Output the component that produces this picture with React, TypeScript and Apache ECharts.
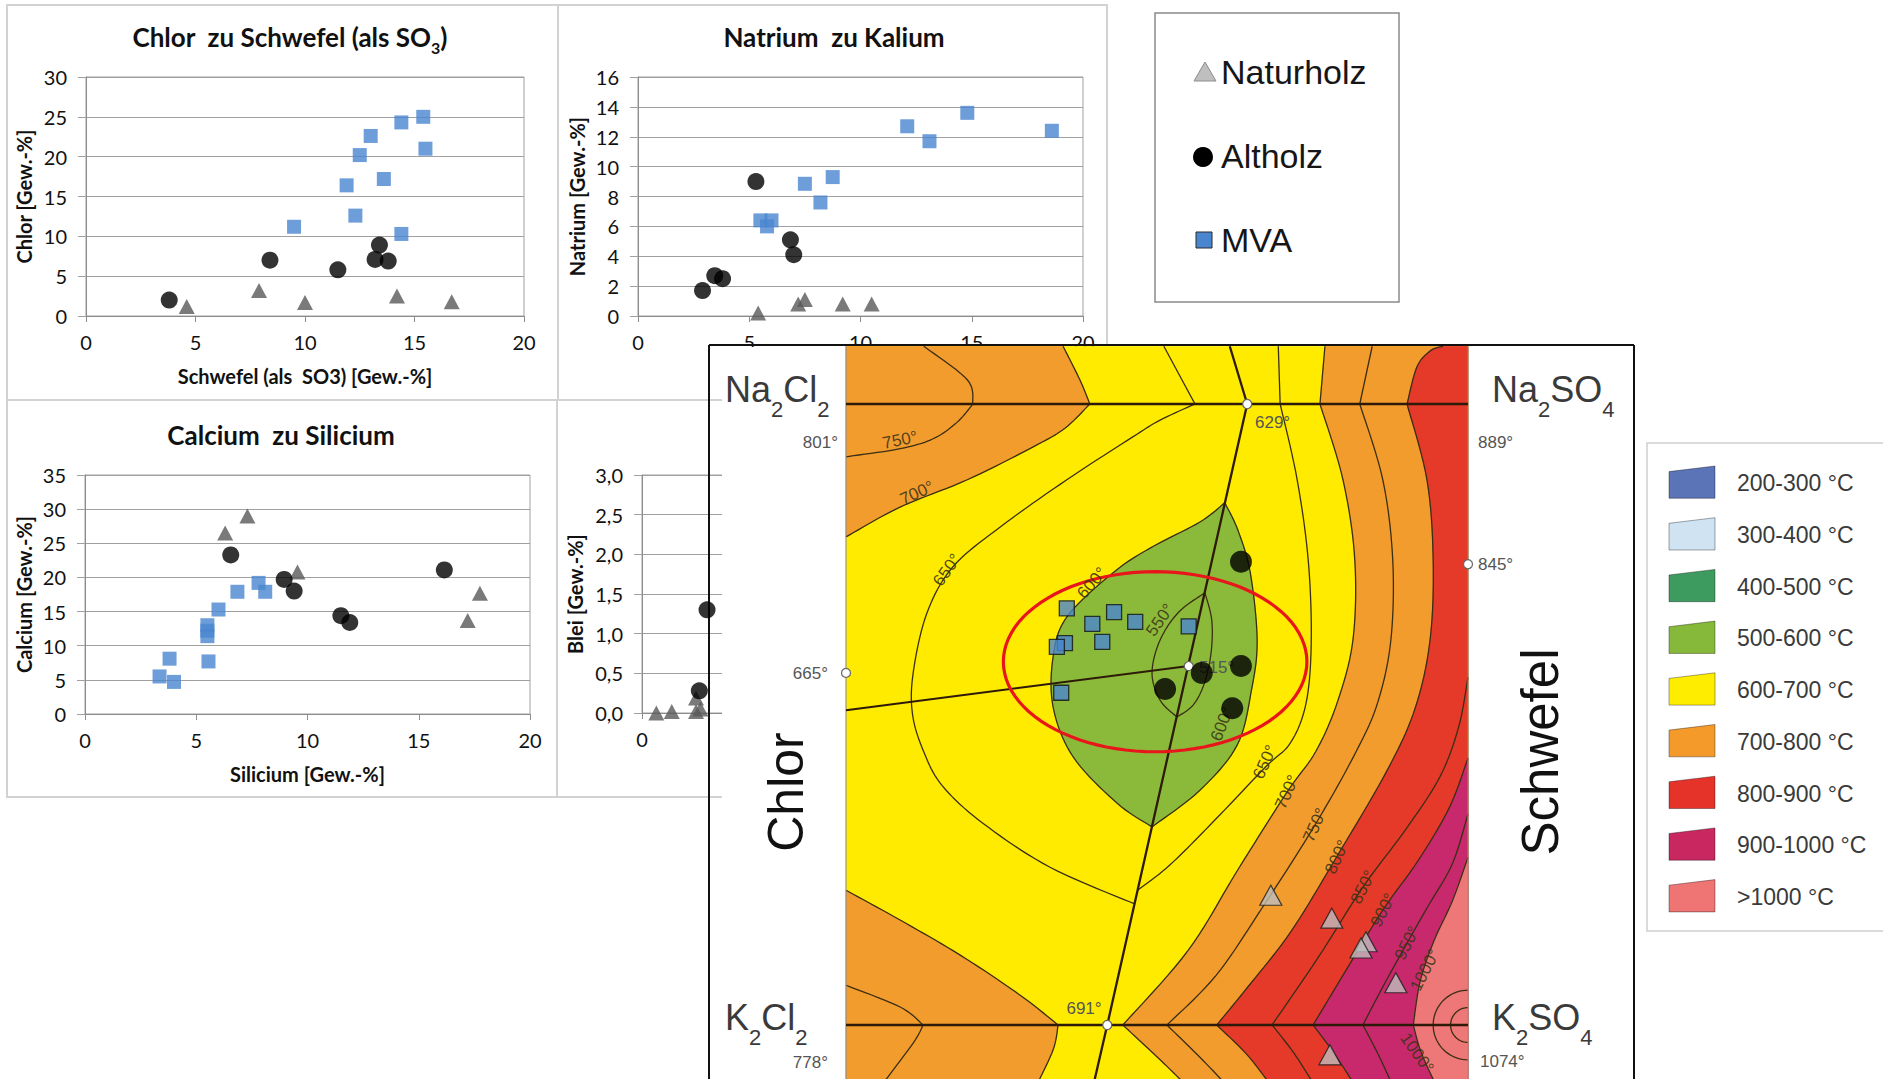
import React, { useEffect, useRef } from "react";
import * as echarts from "echarts";

type Pt = [number, number];

const XL_FONT = "Lato";
const AR_FONT = "Liberation Sans";
const GRID_COLOR = "#A0A0A0";
const AXIS_COLOR = "#8C8C8C";
const PANEL_COLOR = "#D2D2D2";

// ---------- Excel scatter plots, all values in Gew.-% ----------
const clsNaturholz: Pt[] = [[4.6, 1.2], [7.9, 3.2], [10.0, 1.7], [14.2, 2.5], [16.7, 1.8]];
const clsAltholz: Pt[] = [[3.8, 2.0], [8.4, 7.0], [11.5, 5.8], [13.4, 8.9], [13.2, 7.1], [13.8, 6.9]];
const clsMva: Pt[] = [[9.5, 11.2], [11.9, 16.4], [12.3, 12.6], [12.5, 20.2], [13.0, 22.6], [13.6, 17.2], [14.4, 24.3], [14.4, 10.3], [15.4, 25.0], [15.5, 21.0]];

const nakNaturholz: Pt[] = [[5.4, 0.2], [7.2, 0.8], [7.5, 1.1], [9.2, 0.8], [10.5, 0.8]];
const nakAltholz: Pt[] = [[2.9, 1.7], [3.45, 2.7], [3.8, 2.5], [5.3, 9.0], [6.85, 5.1], [7.0, 4.1]];
const nakMva: Pt[] = [[5.5, 6.4], [6.0, 6.4], [5.8, 6.0], [7.5, 8.85], [8.2, 7.6], [8.75, 9.3], [12.1, 12.7], [13.1, 11.7], [14.8, 13.6], [18.6, 12.4]];

const casiNaturholz: Pt[] = [[6.3, 26.5], [7.3, 29.0], [9.55, 20.8], [17.2, 13.7], [17.75, 17.7]];
const casiAltholz: Pt[] = [[6.55, 23.3], [8.95, 19.7], [9.4, 18.0], [11.5, 14.4], [11.9, 13.4], [16.15, 21.1]];
const casiMva: Pt[] = [[3.35, 5.5], [3.8, 8.1], [4.0, 4.7], [5.5, 13.0], [5.5, 12.2], [5.5, 11.4], [5.55, 7.7], [6.0, 15.3], [6.85, 17.9], [7.8, 19.2], [8.1, 17.9]];

const pbNaturholz: Pt[] = [[0.65, 0.0], [1.35, 0.02], [2.45, 0.19], [2.45, 0.02], [2.65, 0.05]];
const pbAltholz: Pt[] = [[2.6, 0.28], [2.95, 1.3]];

// ---------- Reciprocal salt system Na2Cl2 / Na2SO4 / K2Cl2 / K2SO4 ----------
// x: 0 = chloride side, 100 = sulfate side; y: 0 = sodium line, 100 = potassium line
const phaseMva: Pt[] = [[35.5, 32.9], [39.6, 35.4], [43.1, 33.5], [46.5, 35.1], [41.2, 38.3], [35.2, 38.5], [33.9, 39.1], [34.6, 46.5], [55.1, 35.8]];
const phaseAltholz: Pt[] = [[63.5, 25.4], [63.5, 42.2], [57.2, 43.3], [51.3, 45.9], [62.1, 49.0]];
const phaseNaturholz: Pt[] = [[68.3, 79.1], [78.1, 82.8], [83.6, 86.6], [82.8, 87.6], [88.4, 93.2], [77.8, 104.8]];

const FIELD_TOP = -9.3;
const FIELD_BOTTOM = 110;

const iso700NaCl: Pt[][] = [
  [[0, 21.4], [8.7, 16.6], [19.5, 12.2], [30.1, 6.9], [35.2, 3.9], [39.2, 0]],
  [[39.2, 0], [37.6, -3.9], [34.9, FIELD_TOP]],
];
const iso750NaCl: Pt[][] = [
  [[0, 8.5], [8.7, 7.2], [14.0, 5.6], [17.8, 3.0], [20.4, 0]],
  [[20.4, 0], [19.5, -3.9], [12.5, FIELD_TOP]],
];
const iso650Cl: Pt[][] = [
  [[51.1, FIELD_TOP], [56.1, 0]],
  [[56.1, 0], [50.5, 2.6], [46.1, 5.3], [35.5, 12.2], [24.8, 19.8], [17.2, 26.2], [13.0, 33.7], [10.8, 43.3], [10.7, 50], [12.5, 56], [15.5, 61.5], [22.0, 67.5], [32.8, 74.6], [46.4, 80.5]],
];
const iso600Leaf: Pt[][] = [
  [[60.9, 15.9], [56.9, 19.0], [48.9, 23.2], [42.9, 27.2], [35.5, 34.3], [33.3, 40.7], [33.3, 48.8], [36.5, 56.8], [43.6, 64.3], [49.2, 68.1]],
  [[49.2, 68.1], [56.9, 62.2], [62.9, 54.9], [65.2, 46], [66.1, 38.0], [65.0, 27.2], [63.0, 20.3], [60.9, 15.9]],
];
const iso550: Pt[][] = [
  [[57.7, 30.4], [53.5, 33.5], [50.5, 38.0], [49.2, 43.3], [50.5, 47.7], [53.2, 50.4]],
  [[53.2, 50.4], [55.8, 48.5], [57.6, 45.0], [58.7, 40.0], [58.8, 34.8], [57.7, 30.4]],
];
const iso650S: Pt[][] = [
  [[69.5, FIELD_TOP], [69.8, 0]],
  [[69.8, 0], [72.5, 12], [74.3, 25], [74.8, 38], [74.0, 48], [71.5, 54.5], [67.4, 58.5], [59.3, 67], [52.1, 74.2], [46.9, 78.3]],
];
const iso700S: Pt[][] = [
  [[77.0, FIELD_TOP], [76.2, 0]],
  [[76.2, 0], [79.9, 12.2], [81.8, 25.1], [81.5, 38], [79, 48], [75.5, 56], [70.9, 62.5], [63, 75], [55, 88], [44.5, 100]],
  [[44.5, 100], [50.5, 105.6], [55, FIELD_BOTTOM]],
];
const iso750S: Pt[][] = [
  [[84.6, FIELD_TOP], [82.6, 0]],
  [[82.6, 0], [86.3, 12.2], [87.9, 25.1], [87.6, 38], [85.5, 48], [82, 56], [75.4, 67.8], [67, 81], [59.5, 92], [51.6, 100]],
  [[51.6, 100], [56.9, 105.2], [61.5, FIELD_BOTTOM]],
];
const iso800S: Pt[][] = [
  [[96, FIELD_TOP], [94, -8.6], [91.8, -6], [90.2, 0]],
  [[90.2, 0], [93.4, 12.2], [94.4, 25.1], [93.9, 38], [91.5, 49], [87, 59], [78.9, 72.9], [71.5, 85], [64.5, 94], [59.6, 100]],
  [[59.6, 100], [64.5, 104.8], [68.5, FIELD_BOTTOM]],
];
const iso850S: Pt[][] = [
  [[100, 44], [98.5, 52], [95.5, 60], [90, 68.5], [83.1, 77.8], [76, 89], [68.5, 100]],
  [[68.5, 100], [72, 104.5], [75.5, FIELD_BOTTOM]],
];
const iso900S: Pt[][] = [
  [[100, 57], [97, 65], [92, 73.5], [86.3, 81.5], [80.5, 91], [75.1, 100]],
  [[75.1, 100], [78.5, 104.6], [82, FIELD_BOTTOM]],
];
const iso950S: Pt[][] = [
  [[100, 66], [97.5, 74], [93.5, 81], [90.2, 86.8], [86.5, 93.5], [83.1, 100]],
  [[83.1, 100], [85.5, 104.6], [88, FIELD_BOTTOM]],
];
const iso1000S: Pt[][] = [
  [[100, 73], [97.5, 80], [94.5, 86.5], [92.3, 93], [91.2, 100]],
  [[91.2, 100], [92.5, 104.5], [95, FIELD_BOTTOM]],
];
const iso700KCl: Pt[][] = [
  [[0, 78.3], [8.7, 83.1], [18.3, 88.7], [28, 95.2], [34.1, 100]],
  [[34.1, 100], [33.3, 104], [30.5, FIELD_BOTTOM]],
];
const iso750KCl: Pt[][] = [
  [[0, 93.6], [8.7, 97.1], [12.4, 100]],
  [[12.4, 100], [10.8, 102.9], [5.5, FIELD_BOTTOM]],
];
const ringRadiiK2SO4 = [2.8, 5.6];
const valleyNaS: Pt[] = [[61.7, FIELD_TOP], [64.5, 0], [42.0, 100], [39.7, FIELD_BOTTOM]];
const valleyCl: Pt[] = [[0, 49.3], [55.1, 42.2]];
const invariantPoints: Pt[] = [[64.5, 0], [55.1, 42.2], [42.0, 100], [0, 43.3], [100, 25.8]];
const markedRegion = { cx: 49.7, cy: 41.5, rx: 24.4, ry: 14.5 };

const BAND_YELLOW = "#FFEB00";
const BAND_ORANGE = "#F39C2E";
const BAND_RED = "#E5392A";
const BAND_MAGENTA = "#C8286C";
const BAND_PINK = "#EE7878";
const BAND_GREEN = "#8BBA3A";
const CONTOUR = "#3a2e14";
const VALLEY = "#2e1a08";

const tempBandLabels = ["200-300 °C", "300-400 °C", "400-500 °C", "500-600 °C", "600-700 °C", "700-800 °C", "800-900 °C", "900-1000 °C", ">1000 °C"];
const tempBandColors = ["#5B74B8", "#CFE3F3", "#3D9B5F", "#86B93A", "#FFED00", "#F39A2B", "#E5332A", "#C9275F", "#EF7474"];

const sampleNames = ["Naturholz", "Altholz", "MVA"];

// Catmull-Rom through one smooth piece of an isotherm
function smoothPiece(pts: Pt[], steps = 10): Pt[] {
  if (pts.length < 3) return pts.slice();
  const out: Pt[] = [];
  for (let i = 0; i < pts.length - 1; i++) {
    const p0 = pts[Math.max(i - 1, 0)], p1 = pts[i], p2 = pts[i + 1], p3 = pts[Math.min(i + 2, pts.length - 1)];
    for (let s = 0; s < steps; s++) {
      const t = s / steps, t2 = t * t, t3 = t2 * t;
      const f = (k: number) =>
        0.5 * (2 * p1[k] + (-p0[k] + p2[k]) * t + (2 * p0[k] - 5 * p1[k] + 4 * p2[k] - p3[k]) * t2 + (-p0[k] + 3 * p1[k] - 3 * p2[k] + p3[k]) * t3);
      out.push([f(0), f(1)]);
    }
  }
  out.push(pts[pts.length - 1]);
  return out;
}
function trace(pieces: Pt[][]): Pt[] {
  const out: Pt[] = [];
  pieces.forEach((pc, i) => {
    const d = smoothPiece(pc);
    out.push(...(i === 0 ? d : d.slice(1)));
  });
  return out;
}

function renderPhaseDiagram(_params: any, api: any) {
  const c = (p: Pt) => api.coord(p) as number[];
  const run = (pieces: Pt[][]) => trace(pieces).map(c);
  const poly = (points: number[][], color: string) => ({ type: "polygon", shape: { points }, style: { fill: color, stroke: color, lineWidth: 0.6 } });
  const curve = (points: number[][], w = 1.3, color = CONTOUR) => ({ type: "polyline", shape: { points }, style: { fill: "none", stroke: color, lineWidth: w } });
  const T = FIELD_TOP, B = FIELD_BOTTOM;
  const text = (t: string, x: number, y: number, o: any = {}) => ({
    type: "text", x, y, rotation: o.rot || 0,
    style: { text: t, fill: o.fill || "#555", fontSize: o.size || 17, fontFamily: AR_FONT, align: o.align || "center", verticalAlign: "middle", opacity: o.opacity ?? 1 },
  });
  const formula = (t: string, x: number, y: number) => ({
    type: "text", x, y,
    style: {
      text: t, align: "left", verticalAlign: "middle",
      rich: {
        m: { fontSize: 36, fontFamily: AR_FONT, fill: "#3a3a3a", lineHeight: 62 },
        s: { fontSize: 22, fontFamily: AR_FONT, fill: "#3a3a3a", lineHeight: 22, verticalAlign: "bottom" },
      },
    },
  });

  const ellipse: number[][] = [];
  for (let i = 0; i <= 96; i++) {
    const a = (i / 96) * Math.PI * 2;
    ellipse.push(c([markedRegion.cx + markedRegion.rx * Math.cos(a), markedRegion.cy + markedRegion.ry * Math.sin(a)]));
  }
  const rings = ringRadiiK2SO4.map((r) => {
    const pts: number[][] = [];
    for (let i = 0; i <= 40; i++) {
      const a = Math.PI / 2 + (i / 40) * Math.PI;
      pts.push(c([100 + r * Math.cos(a), 100 + r * Math.sin(a)]));
    }
    return curve(pts);
  });

  const isoLabel = (t: string, x: number, y: number, rot: number) => text(t, x, y, { rot, size: 17, fill: "#3d3516", opacity: 0.9 });

  const children: any[] = [
    // white sheet of the diagram
    { type: "rect", shape: { x: 722, y: 347, width: 912, height: 740 }, style: { fill: "#fff" } },
    // temperature bands
    poly([c([0, T]), c([100, T]), c([100, B]), c([0, B])], BAND_YELLOW),
    poly([c([0, T]), ...run(iso700NaCl)], BAND_ORANGE),
    poly([...run(iso700KCl), c([0, B])], BAND_ORANGE),
    poly([...run(iso700S), c([100, B]), c([100, T])], BAND_ORANGE),
    poly([...run(iso800S), c([100, B]), c([100, T])], BAND_RED),
    poly([...run(iso900S), c([100, B])], BAND_MAGENTA),
    poly([...run(iso1000S), c([100, B])], BAND_PINK),
    poly(run(iso600Leaf), BAND_GREEN),
    // isotherms
    ...[iso750NaCl, iso700NaCl, iso650Cl, iso600Leaf, iso550, iso650S, iso700S, iso750S, iso800S, iso850S, iso900S, iso950S, iso1000S, iso700KCl, iso750KCl].map((p) => curve(run(p))),
    ...rings,
    curve([c([0, T]), c([0, B])], 1, "#8a8a8a"),
    curve([c([100, T]), c([100, B])], 1, "#8a8a8a"),
    // Na line, K line and eutectic valleys
    curve([c([0, 0]), c([100, 0])], 2.6, VALLEY),
    curve([c([0, 100]), c([100, 100])], 2.6, VALLEY),
    curve(valleyNaS.map(c), 2.3, VALLEY),
    curve(valleyCl.map(c), 2.0, VALLEY),
    // highlighted region
    { type: "polyline", shape: { points: ellipse }, style: { fill: "none", stroke: "#E8161B", lineWidth: 3.2 } },
    // invariant points
    ...invariantPoints.map((p) => {
      const q = c(p);
      return { type: "circle", shape: { cx: q[0], cy: q[1], r: 4.5 }, style: { fill: "#fff", stroke: "#666", lineWidth: 1.2 } };
    }),
    // isotherm labels
    isoLabel("750°", 900, 440, 0.2),
    isoLabel("700°", 917, 493, 0.42),
    isoLabel("650°", 947, 570, 0.95),
    isoLabel("600°", 1092, 583, 0.85),
    isoLabel("550°", 1160, 620, 0.95),
    isoLabel("600°", 1222, 724, 1.2),
    isoLabel("650°", 1265, 762, 1.15),
    isoLabel("700°", 1287, 792, 1.15),
    isoLabel("750°", 1315, 825, 1.15),
    isoLabel("800°", 1337, 857, 1.15),
    isoLabel("850°", 1363, 887, 1.1),
    isoLabel("900°", 1383, 910, 1.1),
    isoLabel("950°", 1407, 943, 1.1),
    isoLabel("1000°", 1425, 970, 1.1),
    isoLabel("1000°", 1417, 1053, -0.95),
    // melting / eutectic temperatures
    text("801°", 838, 442, { align: "right" }),
    text("665°", 828, 673, { align: "right" }),
    text("778°", 828, 1062, { align: "right" }),
    text("691°", 1084, 1008),
    text("629°", 1255, 422, { align: "left" }),
    text("515°", 1199, 667, { align: "left" }),
    text("889°", 1478, 442, { align: "left" }),
    text("845°", 1478, 564, { align: "left" }),
    text("1074°", 1480, 1061, { align: "left" }),
    // corner salts and sides
    formula("{m|Na}{s|2}{m|Cl}{s|2}", 725, 389.5),
    formula("{m|Na}{s|2}{m|SO}{s|4}", 1492, 389.5),
    formula("{m|K}{s|2}{m|Cl}{s|2}", 725, 1017.5),
    formula("{m|K}{s|2}{m|SO}{s|4}", 1492, 1017.5),
    text("Chlor", 786, 792, { rot: Math.PI / 2, size: 50, fill: "#111" }),
    text("Schwefel", 1540, 752, { rot: Math.PI / 2, size: 51, fill: "#111" }),
    // frame
    curve([[709, 345], [1634, 345]], 2, "#111"),
    curve([[709, 345], [709, 1085]], 2, "#111"),
    curve([[1634, 345], [1634, 1085]], 2, "#111"),
  ];
  return { type: "group", children };
}

const markStyle: Record<string, any> = {
  Naturholz: { symbol: "triangle", symbolSize: [16, 15], itemStyle: { color: "#595959" } },
  Altholz: { symbol: "circle", symbolSize: 17, itemStyle: { color: "#000" } },
  MVA: { symbol: "rect", symbolSize: 14, itemStyle: { color: "#4A86CF" } },
};

function xlSeries(name: string, data: Pt[], gi: number, z = 2) {
  return { type: "scatter", name, data, xAxisIndex: gi, yAxisIndex: gi, z, silent: true, clip: false, ...markStyle[name] };
}

const tickFont = { fontFamily: XL_FONT, fontSize: 20, color: "#111" };
const nameFont = { fontFamily: XL_FONT, fontWeight: "bold", fontSize: 20, color: "#111" };

function xAxisFor(gi: number, name?: string) {
  return {
    gridIndex: gi, type: "value", min: 0, max: 20, interval: 5,
    axisLine: { show: true, onZero: false, lineStyle: { color: AXIS_COLOR } },
    axisTick: { show: true, length: 6, lineStyle: { color: AXIS_COLOR } },
    splitLine: { show: false },
    axisLabel: { ...tickFont, margin: 16 },
    name, nameLocation: "middle", nameGap: 50,
    nameTextStyle: nameFont,
  };
}
function yAxisFor(gi: number, max: number, interval: number, name: string, gap: number, formatter?: (v: number) => string) {
  return {
    gridIndex: gi, type: "value", min: 0, max, interval,
    axisLine: { show: true, onZero: false, lineStyle: { color: AXIS_COLOR } },
    axisTick: { show: true, length: 8, lineStyle: { color: GRID_COLOR } },
    splitLine: { show: true, lineStyle: { color: GRID_COLOR, width: 1 } },
    axisLabel: { ...tickFont, margin: 19, formatter },
    name, nameLocation: "middle", nameGap: gap, nameRotate: 90,
    nameTextStyle: nameFont,
  };
}

function buildOption() {
  const grids: any[] = [
    { left: 86, top: 77, width: 438, height: 239 },
    { left: 638, top: 77, width: 445, height: 239 },
    { left: 85, top: 475, width: 445, height: 239 },
    { left: 642, top: 475, width: 441, height: 238 },
  ].map((g) => ({ ...g, show: true, borderColor: GRID_COLOR, borderWidth: 1 }));
  grids.push({ left: 846, top: 404, width: 622, height: 621, show: false });

  const xAxis: any[] = [
    xAxisFor(0, "Schwefel (als\u00a0 SO3) [Gew.-%]"),
    xAxisFor(1),
    xAxisFor(2, "Silicium [Gew.-%]"),
    xAxisFor(3),
    { gridIndex: 4, type: "value", min: 0, max: 100, show: false },
  ];
  const yAxis: any[] = [
    yAxisFor(0, 30, 5, "Chlor [Gew.-%]", 52),
    yAxisFor(1, 16, 2, "Natrium [Gew.-%]", 51),
    yAxisFor(2, 35, 5, "Calcium [Gew.-%]", 51),
    yAxisFor(3, 3, 0.5, "Blei [Gew.-%]", 57, (v: number) => v.toFixed(1).replace(".", ",")),
    { gridIndex: 4, type: "value", min: 0, max: 100, inverse: true, show: false },
  ];

  const series: any[] = [
    xlSeries("Naturholz", clsNaturholz, 0), xlSeries("Altholz", clsAltholz, 0), xlSeries("MVA", clsMva, 0),
    xlSeries("Naturholz", nakNaturholz, 1), xlSeries("Altholz", nakAltholz, 1), xlSeries("MVA", nakMva, 1),
    xlSeries("Naturholz", casiNaturholz, 2), xlSeries("Altholz", casiAltholz, 2), xlSeries("MVA", casiMva, 2),
    xlSeries("Naturholz", pbNaturholz, 3, 10), xlSeries("Altholz", pbAltholz, 3, 10),
    {
      type: "custom", coordinateSystem: "cartesian2d", xAxisIndex: 4, yAxisIndex: 4,
      data: [[0, 0]], z: 5, silent: true, clip: false, renderItem: renderPhaseDiagram,
    },
    {
      type: "scatter", name: "MVA", xAxisIndex: 4, yAxisIndex: 4, data: phaseMva, z: 10, silent: true, clip: false,
      symbol: "rect", symbolSize: 15, itemStyle: { color: "#4A86CF", borderColor: "#111", borderWidth: 1.3 },
    },
    {
      type: "scatter", name: "Altholz", xAxisIndex: 4, yAxisIndex: 4, data: phaseAltholz, z: 10, silent: true, clip: false,
      symbol: "circle", symbolSize: 22, itemStyle: { color: "#000" },
    },
    {
      type: "scatter", name: "Naturholz", xAxisIndex: 4, yAxisIndex: 4, data: phaseNaturholz, z: 10, silent: true, clip: false,
      symbol: "triangle", symbolSize: [22, 20], itemStyle: { color: "#BEBEBE", borderColor: "#1a1a1a", borderWidth: 1.2 },
    },
  ];

  const panel = { fill: "none", stroke: PANEL_COLOR, lineWidth: 2 };
  const titleStyle = { fontFamily: XL_FONT, fontWeight: "bold", fontSize: 26, fill: "#111", align: "center", verticalAlign: "middle" };
  const legendText = { fontFamily: AR_FONT, fontSize: 34, fill: "#161616", align: "left", verticalAlign: "middle" };

  const graphic: any[] = [
    { type: "rect", silent: true, shape: { x: 7, y: 5, width: 1100, height: 395 }, style: panel },
    { type: "rect", silent: true, shape: { x: 7, y: 400, width: 1100, height: 397 }, style: panel },
    { type: "line", silent: true, shape: { x1: 558, y1: 5, x2: 558, y2: 400 }, style: { stroke: PANEL_COLOR, lineWidth: 2 } },
    { type: "line", silent: true, shape: { x1: 557, y1: 400, x2: 557, y2: 797 }, style: { stroke: PANEL_COLOR, lineWidth: 2 } },
    {
      type: "text", x: 290, y: 37, silent: true,
      style: {
        text: "{m|Chlor\u00a0 zu Schwefel (als SO}{s|3}{m|)}", align: "center", verticalAlign: "middle",
        rich: {
          m: { fontFamily: XL_FONT, fontWeight: "bold", fontSize: 26, fill: "#111", lineHeight: 36 },
          s: { fontFamily: XL_FONT, fontWeight: "bold", fontSize: 16, fill: "#111", lineHeight: 16, verticalAlign: "bottom" },
        },
      },
    },
    { type: "text", x: 834, y: 37, silent: true, style: { text: "Natrium\u00a0 zu Kalium", ...titleStyle } },
    { type: "text", x: 281, y: 435, silent: true, style: { text: "Calcium\u00a0 zu Silicium", ...titleStyle } },
    // sample legend
    { type: "rect", silent: true, shape: { x: 1155, y: 13, width: 244, height: 289 }, style: { fill: "#fff", stroke: "#8A8A8A", lineWidth: 1.5 } },
    { type: "polygon", silent: true, shape: { points: [[1205, 62], [1216, 81], [1194, 81]] }, style: { fill: "#BFBFBF", stroke: "#8C8C8C", lineWidth: 1 } },
    { type: "circle", silent: true, shape: { cx: 1203, cy: 157, r: 10 }, style: { fill: "#000" } },
    { type: "rect", silent: true, shape: { x: 1196, y: 232, width: 16, height: 16 }, style: { fill: "#4A86CF", stroke: "#2a2a2a", lineWidth: 1 } },
    ...sampleNames.map((n, i) => ({ type: "text", x: 1221, y: [72, 156, 240][i], silent: true, style: { text: n, ...legendText } })),
    // temperature legend
    { type: "rect", silent: true, shape: { x: 1647, y: 443, width: 260, height: 488 }, style: { fill: "#fff", stroke: "#D0D0D0", lineWidth: 1.5 } },
    ...tempBandLabels.flatMap((lab, i) => {
      const cy = 483.3 + i * 51.7;
      return [
        {
          type: "polygon", silent: true,
          shape: { points: [[1669, cy - 11.7], [1715, cy - 17.3], [1715, cy + 15], [1669, cy + 15]] },
          style: { fill: tempBandColors[i], stroke: "rgba(0,0,0,0.35)", lineWidth: 1 },
        },
        { type: "text", x: 1737, y: cy, silent: true, style: { text: lab, fontFamily: AR_FONT, fontSize: 23, fill: "#3a3a3a", align: "left", verticalAlign: "middle" } },
      ];
    }),
  ];

  return { animation: false, backgroundColor: "#fff", grid: grids, xAxis, yAxis, series, graphic };
}

export default function App() {
  const ref = useRef<HTMLDivElement>(null);
  useEffect(() => {
    if (!ref.current) return;
    const chart = echarts.init(ref.current, undefined, { renderer: "svg" });
    chart.setOption(buildOption() as any);
    return () => chart.dispose();
  }, []);
  return <div ref={ref} style={{ position: "fixed", left: 0, top: 0, width: 1883, height: 1079, background: "#fff" }} />;
}
